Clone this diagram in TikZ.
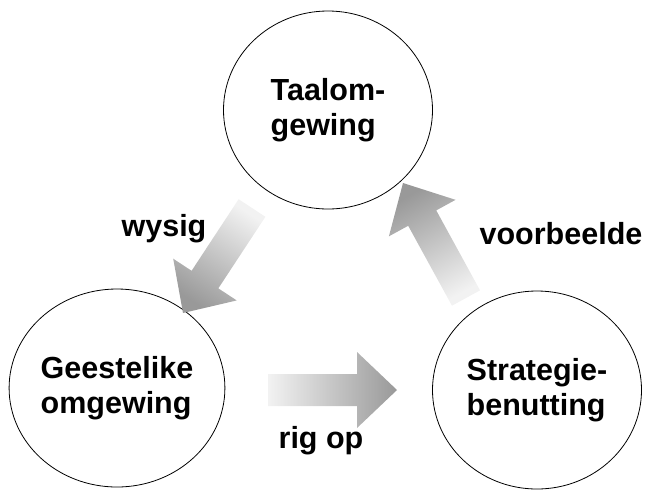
\documentclass[tikz,border=0pt]{standalone}
\usepackage{fontspec}
\setmainfont{Liberation Sans}
\usetikzlibrary{positioning,calc,shapes.geometric}

% block arrow from tail coordinate #1 to tip coordinate #2
\newcommand{\BlockArrow}[2]{%
  \path let \p1=($(#2)-(#1)$), \n1={atan2(\y1,\x1)}, \n2={veclen(\x1,\y1)} in
    \pgfextra{\xdef\ArrAngle{\n1}\xdef\ArrLength{\n2}};
  \begin{scope}[shift={(#1)}, rotate=\ArrAngle]
    \shade[ArrowStyle, shading angle=\ArrAngle-90] (0,-16) -- (\ArrLength-40,-16)
      -- (\ArrLength-40,-38) -- (\ArrLength,0) -- (\ArrLength-40,38)
      -- (\ArrLength-40,16) -- (0,16) -- cycle;
  \end{scope}
}

\begin{document}
\begin{tikzpicture}[x=1pt,y=-1pt]
  \tikzset{CircleStyle/.style = {
    shape          = ellipse,
    draw           = black,
    line width     = 0.8pt,
    fill           = white,
    text           = black,
    inner sep      = 0pt,
    minimum width  = 209pt,
    minimum height = 198pt,
    align          = left,
    font           = \fontsize{30.5}{35}\selectfont\bfseries
    }
  }
  \tikzset{LabelStyle/.style = {
    inner sep     = 0pt,
    text          = black,
    font          = \fontsize{30.5}{35}\selectfont\bfseries
    }
  }
  \tikzset{ArrowStyle/.style = {
    draw          = none,
    bottom color  = gray!10,
    top color     = gray!80
    }
  }

  \useasboundingbox (0,0) rectangle (645,491);

  \node[CircleStyle](Taal) at (328,110) {Taalom-\\gewing};
  \node[CircleStyle](Gees) at (117,388) {Geestelike\\omgewing};
  \node[CircleStyle](Strat) at (537,390) {Strategie-\\benutting};

  \coordinate (W1) at (252,208);
  \coordinate (W2) at (183,313);
  \coordinate (R1) at (268,390);
  \coordinate (R2) at (397,390);
  \coordinate (V1) at (466,298);
  \coordinate (V2) at (403,183);
  \BlockArrow{W1}{W2}
  \BlockArrow{R1}{R2}
  \BlockArrow{V1}{V2}

  \node[LabelStyle](wysig) at (164,229) {wysig};
  \node[LabelStyle](voorbeelde) at (561,234) {voorbeelde};
  \node[LabelStyle](rigop) at (321,441) {rig op};
\end{tikzpicture}
\end{document}
